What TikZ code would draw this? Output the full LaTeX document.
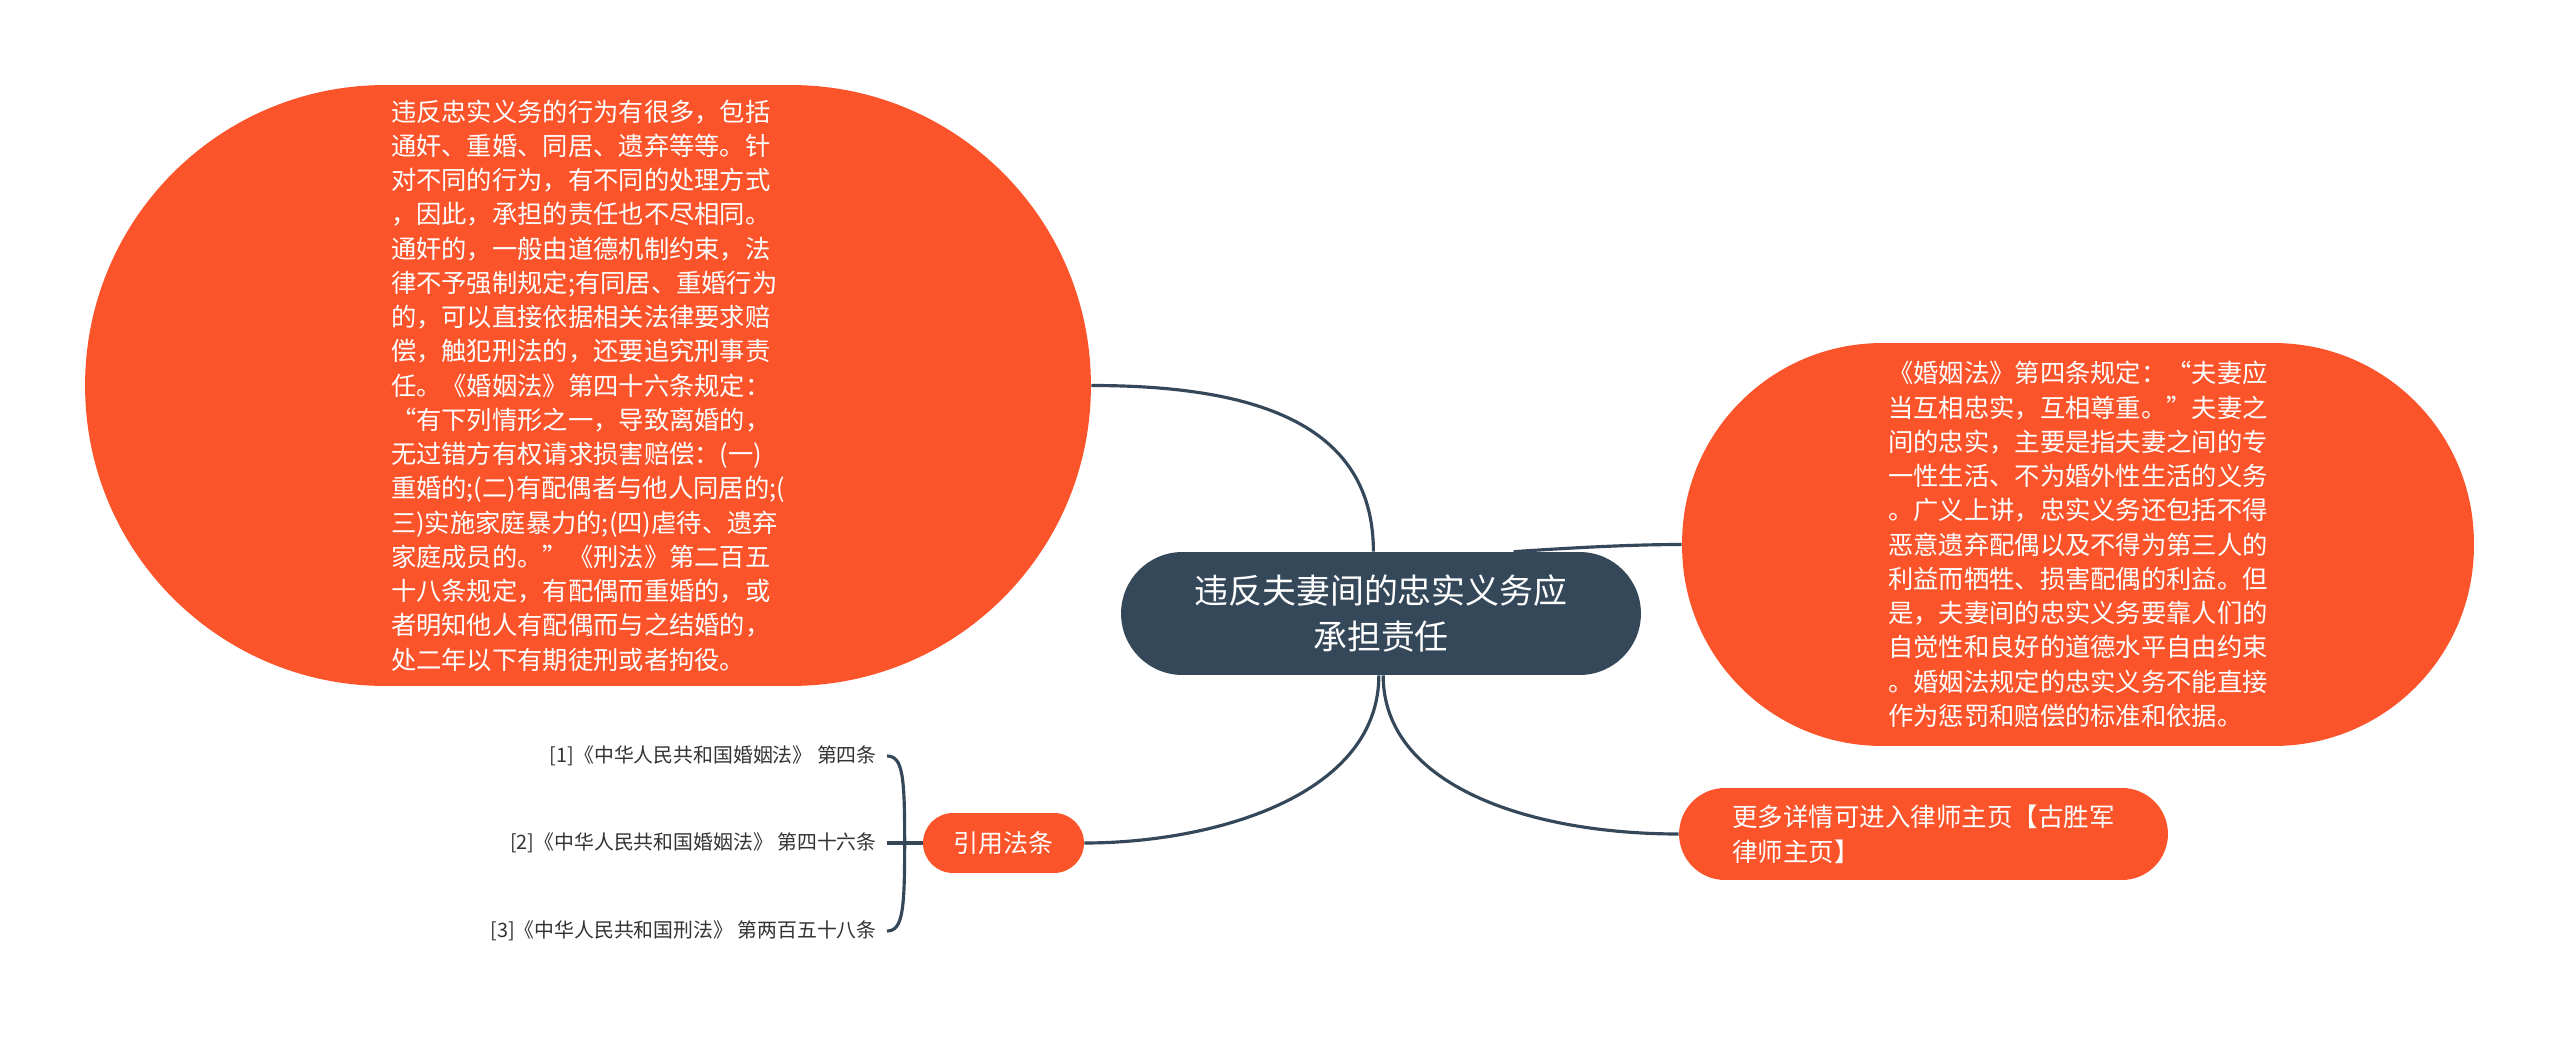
\documentclass[tikz,border=0pt]{standalone}
\usepackage{fontspec}
\setmainfont{Noto Sans CJK SC}
\usepackage{tikz}
\definecolor{topicslate}{RGB}{53,72,90}
\definecolor{branchorange}{RGB}{251,83,42}
\definecolor{leafgray}{RGB}{51,51,51}
\tikzset{
  bubble/.style = {fill=branchorange, text=white, align=left, inner sep=0pt},
  topic/.style  = {fill=topicslate, text=white, align=center, inner sep=0pt,
                   rounded corners=1.23cm, minimum width=10.4cm, minimum height=2.46cm,
                   font=\fontsize{19.3}{26.6}\selectfont},
  leaf/.style   = {text=leafgray, anchor=east, inner xsep=0.2cm, inner ysep=0pt,
                   font=\fontsize{11.3}{14}\selectfont},
  link/.style   = {draw=topicslate, line width=1.8pt},
}

\begin{document}
\begin{tikzpicture}[x=0.02cm, y=0.02cm]
  \path[use as bounding box, fill=white] (0,0) rectangle (2560,-1037);

  \node[topic] (root) at (1381,-613.5) {违反夫妻间的忠实义务应\\承担责任};

  \node[bubble, rounded corners=6cm, minimum width=20.12cm, minimum height=12.02cm,
        font=\fontsize{14.4}{19.5}\selectfont] (viol) at (588,-385.5)
    {违反忠实义务的行为有很多，包括\\
     通奸、重婚、同居、遗弃等等。针\\
     对不同的行为，有不同的处理方式\\
     ，因此，承担的责任也不尽相同。\\
     通奸的，一般由道德机制约束，法\\
     律不予强制规定;有同居、重婚行为\\
     的，可以直接依据相关法律要求赔\\
     偿，触犯刑法的，还要追究刑事责\\
     任。《婚姻法》第四十六条规定：\\
     “有下列情形之一，导致离婚的，\\
     无过错方有权请求损害赔偿：(一)\\
     重婚的;(二)有配偶者与他人同居的;(\\
     三)实施家庭暴力的;(四)虐待、遗弃\\
     家庭成员的。”《刑法》第二百五\\
     十八条规定，有配偶而重婚的，或\\
     者明知他人有配偶而与之结婚的，\\
     处二年以下有期徒刑或者拘役。};

  \node[bubble, rounded corners=4cm, minimum width=15.84cm, minimum height=8.06cm,
        font=\fontsize{14.4}{19.5}\selectfont] (duty) at (2078,-544.5)
    {《婚姻法》第四条规定：“夫妻应\\
     当互相忠实，互相尊重。”夫妻之\\
     间的忠实，主要是指夫妻之间的专\\
     一性生活、不为婚外性生活的义务\\
     。广义上讲，忠实义务还包括不得\\
     恶意遗弃配偶以及不得为第三人的\\
     利益而牺牲、损害配偶的利益。但\\
     是，夫妻间的忠实义务要靠人们的\\
     自觉性和良好的道德水平自由约束\\
     。婚姻法规定的忠实义务不能直接\\
     作为惩罚和赔偿的标准和依据。};

  \node[bubble, rounded corners=0.92cm, minimum width=9.78cm, minimum height=1.84cm,
        font=\fontsize{14.5}{19.8}\selectfont] (more) at (1923.5,-834)
    {更多详情可进入律师主页【古胜军\\律师主页】};

  \node[bubble, rounded corners=0.6cm, minimum width=3.22cm, minimum height=1.2cm,
        font=\fontsize{14.2}{17}\selectfont] (cite) at (1003.5,-843) {引用法条};

  \node[leaf] (ref1) at (887,-756) {[1]《中华人民共和国婚姻法》 第四条};
  \node[leaf] (ref2) at (887,-843) {[2]《中华人民共和国婚姻法》 第四十六条};
  \node[leaf] (ref3) at (887,-931) {[3]《中华人民共和国刑法》 第两百五十八条};

  % branches
  \draw[link] (root.97) .. controls +(0,130) and +(160,0) .. (viol.east);
  \draw[link] (root.25) .. controls +(60,4) and +(-50,0) .. (duty.west);
  \draw[link] (root.-88) .. controls +(0,-110) and +(-150,0) .. (more.west);
  \draw[link] (root.-92) .. controls +(0,-120) and +(130,0) .. (cite.east);

  % bracket to the references
  \draw[link] (cite.west) -- (ref2.east);
  \draw[link] (cite.west) -- ++(-18,0) .. controls +(0,66) and +(16,0) .. (ref1.east);
  \draw[link] (cite.west) -- ++(-18,0) .. controls +(0,-66) and +(16,0) .. (ref3.east);
\end{tikzpicture}
\end{document}
